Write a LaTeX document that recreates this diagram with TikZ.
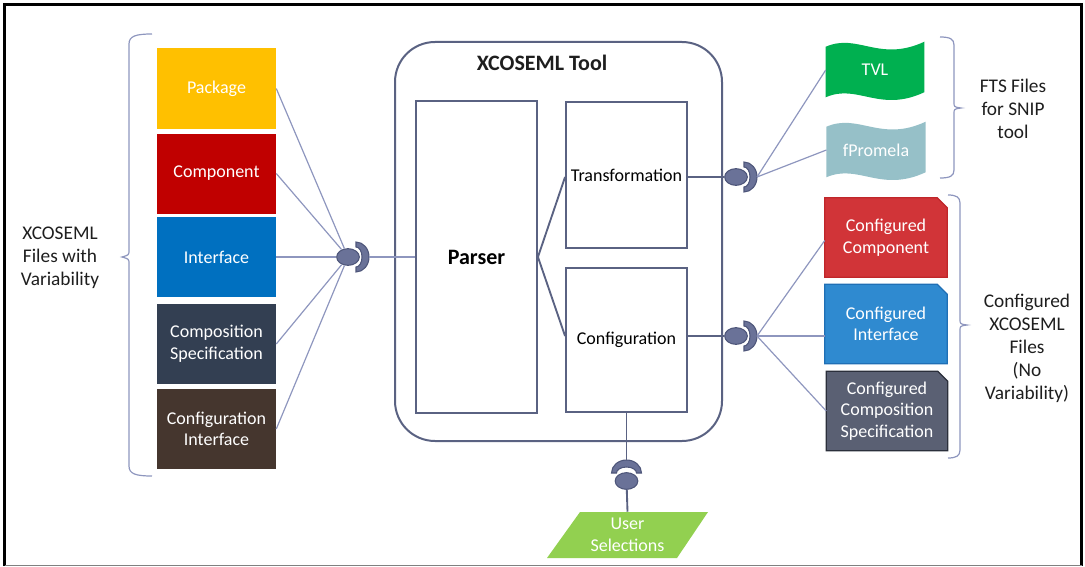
\documentclass[tikz,border=0pt]{standalone}
\usepackage{fontspec}
\setmainfont{Carlito}
\usetikzlibrary{shapes.geometric,calc,backgrounds}

\definecolor{pkgyellow}{HTML}{FFC000}
\definecolor{compred}{HTML}{C00000}
\definecolor{ifblue}{HTML}{0070C0}
\definecolor{compnavy}{HTML}{333F52}
\definecolor{cfgbrown}{HTML}{45362E}
\definecolor{tvlgreen}{HTML}{00B050}
\definecolor{fpromcol}{HTML}{96C0C8}
\definecolor{snipred}{HTML}{D13438}
\definecolor{snipredd}{HTML}{C0262A}
\definecolor{snipblue}{HTML}{2F8AD0}
\definecolor{snipblued}{HTML}{1F6FB5}
\definecolor{snipgray}{HTML}{5A6073}
\definecolor{snipgrayd}{HTML}{2B2F3B}
\definecolor{usergreen}{HTML}{92D050}
\definecolor{lineblue}{HTML}{8E96BE}
\definecolor{slate}{HTML}{5A6282}
\definecolor{ballfill}{HTML}{6A7298}
\definecolor{balledge}{HTML}{4E567A}
\definecolor{labelink}{HTML}{1E1E1E}

\begin{document}
\begin{tikzpicture}[x=0.75pt,y=-0.75pt,
  boxtext/.style={font=\fontsize{13.5}{16.2}\selectfont, text=white, align=center},
  srcbox/.style={boxtext, rectangle, minimum width=89.25pt, minimum height=60pt, inner sep=2pt},
  innerbox/.style={rectangle, draw=slate, line width=1.4pt, inner sep=2pt,
    font=\fontsize{13.5}{16}\selectfont, text=black, align=center},
  ghost/.style={rectangle, inner sep=2pt},
  sidelabel/.style={font=\fontsize{14.5}{17.25}\selectfont, text=labelink, align=center},
  conn/.style={draw=lineblue, line width=0.9pt},
  darkconn/.style={draw=slate, line width=1.4pt},
  brace/.style={draw=lineblue, line width=0.9pt},
  ball/.style={ellipse, fill=ballfill, draw=balledge, line width=0.8pt,
    minimum width=17pt, minimum height=12.5pt, inner sep=0pt},
  socket/.pic={
    \filldraw[fill=ballfill, draw=balledge, line width=0.8pt]
      (0,-15) arc[start angle=-90, end angle=90, x radius=13, y radius=15]
      -- (0,10) arc[start angle=90, end angle=-90, x radius=6, y radius=10] -- cycle;
    \coordinate (-tip) at (13,0);
  }]
\useasboundingbox (0,0) rectangle (1085,567);

% outer frame
\draw[black, line width=2pt] (4.5,566) -- (4.5,4.5) -- (1081.5,4.5) -- (1081.5,566);
\draw[gray, line width=1.2pt] (4.5,565.5) -- (1081.5,565.5);

% input models
\node[srcbox, fill=pkgyellow] (pkg)  at (216.5,88.5)  {Package};
\node[srcbox, fill=compred]   (comp) at (216.5,173.5) {Component};
\node[srcbox, fill=ifblue]    (intf) at (216.5,257)   {Interface};
\node[srcbox, fill=compnavy]  (cspec) at (216.5,344)  {Composition\\Specification};
\node[srcbox, fill=cfgbrown]  (cint) at (216.5,429)   {Configuration\\Interface};

\node[sidelabel] (inlabel) at (60,258) {XCOSEML\\Files with\\Variability};
\draw[brace] (152,34) .. controls (136,34) and (129,36) .. (129,44) -- (129,250)
  .. controls (129,255) .. (122,257) .. controls (129,259) .. (129,264) -- (129,466)
  .. controls (129,474) and (136,476) .. (152,476);

% tool
\node[rectangle, draw=slate, line width=1.5pt, rounded corners=30pt,
  minimum width=245.25pt, minimum height=299.25pt] (tool) at (558.5,241.5) {};
\node[font=\fontsize{16.5}{19}\selectfont\bfseries, text=labelink] (tooltitle) at (542,63) {XCOSEML Tool};
\node[innerbox, minimum width=90.75pt, minimum height=234pt,
  font=\fontsize{16.5}{19}\selectfont\bfseries] (parser) at (476.5,257) {Parser};
\node[innerbox, minimum width=90.75pt, minimum height=109.5pt] (trans) at (626.5,175) {Transformation};
\node[innerbox, minimum width=90.75pt, minimum height=108pt] (conf) at (626.5,340) {Configuration};

% ball-and-socket interfaces
\node[ball] (ball1) at (348,257) {};
\pic (s1) at (356,257) {socket};
\node[ball] (ball2) at (736,177) {};
\pic (s2) at (744,177) {socket};
\node[ball] (ball3) at (736,336) {};
\pic (s3) at (744,336) {socket};
\node[ball] (ball4) at (626.5,481) {};
\pic[rotate=90] (s4) at (626.5,473) {socket};

% FTS outputs
\node[ghost, boxtext, minimum width=73.5pt, minimum height=37.5pt] (tvl) at (875,70) {TVL};
\node[ghost, boxtext, minimum width=74pt, minimum height=37.5pt] (fprom) at (876,150) {fPromela};
\node[sidelabel] (ftslabel) at (1013,109) {FTS Files\\for SNIP\\tool};
\draw[brace] (940,37) .. controls (950,37) and (954,39) .. (954,45) -- (954,102)
  .. controls (954,107) .. (961,108) .. controls (954,109) .. (954,114) -- (954,170)
  .. controls (954,176) and (950,178) .. (940,178);

% configured outputs
\node[ghost, boxtext, minimum width=91.5pt, minimum height=59.25pt] (cc)  at (886,237.5) {Configured\\Component};
\node[ghost, boxtext, minimum width=91.5pt, minimum height=59.25pt] (ci)  at (886,324)   {Configured\\Interface};
\node[ghost, boxtext, minimum width=90.75pt, minimum height=59.25pt] (ccs) at (887,411) {Configured\\Composition\\Specification};
\node[sidelabel] (cfglabel) at (1027,348.5) {Configured\\XCOSEML\\Files\\(No\\Variability)};
\draw[brace] (948,195) .. controls (956,195) and (960,197) .. (960,203) -- (960,319)
  .. controls (960,324) .. (967,325) .. controls (960,326) .. (960,331) -- (960,450)
  .. controls (960,456) and (956,458) .. (948,458);

% user selections
\node[ghost, boxtext, minimum width=60pt, minimum height=34.5pt] (user) at (627.5,535) {User\\Selections};

\begin{scope}[on background layer]
  \fill[usergreen] (580,512) -- (708,512) -- (677,558) -- (547,558) -- cycle;
  \foreach \n/\c in {tvl/tvlgreen, fprom/fpromcol}
    \fill[\c] ($(\n.north west)+(0,2)$)
      .. controls ($(\n.north west)+(32,-12)$) and ($(\n.north east)+(-45,18)$) .. ($(\n.north east)+(0,-3)$)
      -- ($(\n.south east)+(0,-3)$)
      .. controls ($(\n.south east)+(-45,18)$) and ($(\n.south west)+(32,-12)$) .. ($(\n.south west)+(0,2)$)
      -- cycle;
  \foreach \n/\f/\d in {cc/snipred/snipredd, ci/snipblue/snipblued, ccs/snipgray/snipgrayd}
    \filldraw[fill=\f, draw=\d, line width=0.9pt]
      (\n.south west) -- (\n.north west) -- ($(\n.north east)+(-10,0)$)
      -- ($(\n.north east)+(0,10)$) -- (\n.south east) -- cycle;
\end{scope}

% connectors
\foreach \n in {pkg,comp,intf,cspec,cint}
  \draw[conn] (\n.east) -- (ball1);
\draw[conn] (s1-tip) -- (s1-tip -| parser.west);
\draw[darkconn] (parser.east) -- (trans.west |- ball2);
\draw[darkconn] (parser.east) -- (conf.west |- ball3);
\draw[darkconn] (trans.east |- ball2) -- (ball2);
\draw[darkconn] (conf.east |- ball3) -- (ball3);
\draw[conn] (s2-tip) -- (tvl.west);
\draw[conn] (s2-tip) -- (fprom.west);
\draw[conn] (s3-tip) -- ($(cc.west)+(0,3)$);
\draw[conn] (s3-tip) -- (s3-tip -| ci.west);
\draw[conn] (s3-tip) -- (ccs.west);
\draw[darkconn] (conf.south) -- (s4-tip);
\draw[darkconn] (ball4) -- (user.north);
\end{tikzpicture}
\end{document}
